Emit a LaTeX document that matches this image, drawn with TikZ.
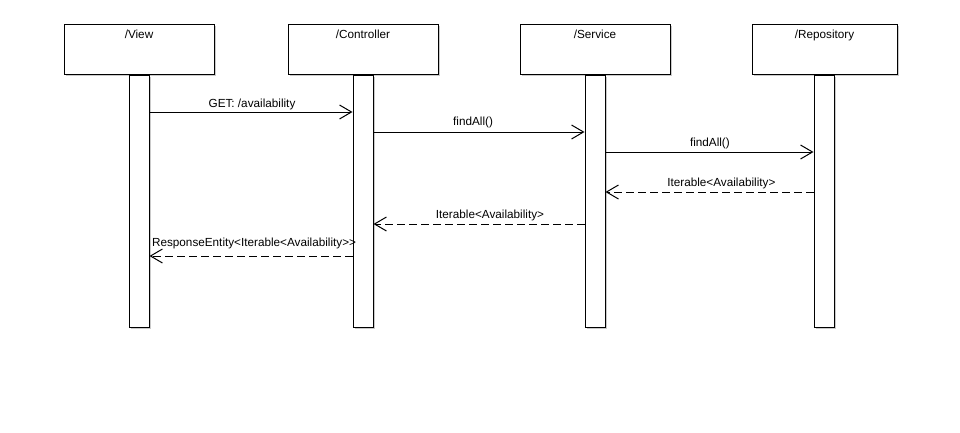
\documentclass[tikz,border=0pt]{standalone}
\usepackage{fontspec}
\setmainfont{Liberation Sans}
\usetikzlibrary{arrows.meta}
\usetikzlibrary{positioning, shadows}

\begin{document}
\begin{tikzpicture}[x=0.75pt, y=-0.75pt, font=\fontsize{8.8}{10}\selectfont,
    line width=0.75pt]
    \useasboundingbox (0,0) rectangle (960,432);

    \tikzset{
      headbox/.style={draw, fill=white, inner sep=0pt,
          minimum width=112.5pt, minimum height=37.5pt,
          drop shadow={shadow xshift=1.2pt, shadow yshift=-1.2pt, fill=black!35, opacity=.6},
          label={[anchor=base, yshift=-11.25pt, inner sep=0pt]north:#1}},
      actbar/.style={draw, fill=white, inner sep=0pt,
          minimum width=15pt, minimum height=189pt,
          drop shadow={shadow xshift=1.2pt, shadow yshift=-1.2pt, fill=black!35, opacity=.6}},
      msglabel/.style={anchor=base, inner sep=0pt, yshift=4.5pt}
    }

    % Lifeline heads, use the tuple for location
    \node[headbox=/View] (View) at (139,49) {};
    \node[headbox=/Controller] (Ctrl) at (363,49) {};
    \node[headbox=/Service] (Svc) at (595,49) {};
    \node[headbox=/Repository, minimum width=108.75pt] (Repo) at (824.5,49) {};

    % Activation bars below each head
    \node[actbar, below=0pt of View] (ViewBar) {};
    \node[actbar, below=0pt of Ctrl] (CtrlBar) {};
    \node[actbar, below=0pt of Svc] (SvcBar) {};
    \node[actbar, below=0pt of Repo, xshift=-0.375pt] (RepoBar) {};

    % message rows
    \coordinate (m1) at (0,112);
    \coordinate (m2) at (0,132);
    \coordinate (m3) at (0,152);
    \coordinate (m4) at (0,192);
    \coordinate (m5) at (0,224);
    \coordinate (m6) at (0,256);

    % calls (solid)
    \begin{scope}[>={Straight Barb[length=9pt, width=10.5pt]},
              every edge/.style={draw=black}]
    \path [->] (ViewBar.east |- m1) edge node[msglabel, pos=.505, yshift=-0.75pt] {GET: /availability} (CtrlBar.west |- m1);
    \path [->] (CtrlBar.east |- m2) edge node[msglabel, pos=.472, yshift=0.75pt] {findAll()} (SvcBar.west |- m2);
    \path [->] (SvcBar.east |- m3) edge node[msglabel, pos=.502] {findAll()} (RepoBar.west |- m3);
    \end{scope}

    % returns (dashed)
    \begin{scope}[>={Straight Barb[length=9pt, width=10.5pt]},
              every edge/.style={draw=black, dash pattern=on 6pt off 3pt}]
    \path [->] (RepoBar.west |- m4) edge node[msglabel, pos=.443] {Iterable<Availability>} (SvcBar.east |- m4);
    \path [->] (SvcBar.west |- m5) edge node[msglabel, pos=.448] {Iterable<Availability>} (CtrlBar.east |- m5);
    \path [->] (CtrlBar.west |- m6) edge node[msglabel, pos=.485, yshift=3pt] {ResponseEntity<Iterable<Availability>{}>} (ViewBar.east |- m6);
    \end{scope}

\end{tikzpicture}
\end{document}
